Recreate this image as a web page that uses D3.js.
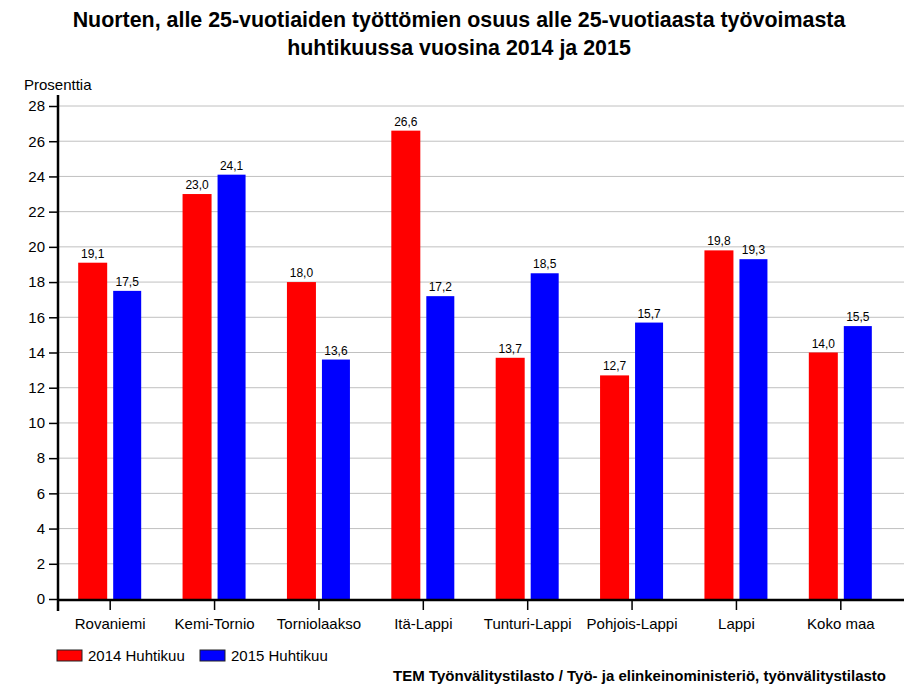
<!DOCTYPE html>
<html><head><meta charset="utf-8">
<script src="https://cdn.jsdelivr.net/npm/d3@7"></script>
<style>body{margin:0;background:#fff}svg{display:block;font-family:Arial,"Liberation Sans",sans-serif}</style>
</head><body><svg id="c" width="919" height="689"></svg>
<script>
const categories = ["Rovaniemi","Kemi-Tornio","Torniolaakso","Itä-Lappi","Tunturi-Lappi","Pohjois-Lappi","Lappi","Koko maa"];
const values2014 = [19.1,23.0,18.0,26.6,13.7,12.7,19.8,14.0];
const values2015 = [17.5,24.1,13.6,17.2,18.5,15.7,19.3,15.5];
const seriesNames = ["2014 Huhtikuu","2015 Huhtikuu"];
const yTicks = [0,2,4,6,8,10,12,14,16,18,20,22,24,26,28];
const colors = ["#ff0000","#0000ff"];

const svg = d3.select("#c");
const x = d3.scaleBand().domain(categories).range([58,893]);
const y = d3.scaleLinear().domain([0,28]).range([599,106]);
const fmt = v => d3.format(".1f")(v).replace(".",",");

svg.append("text").attr("x",459).attr("y",27).attr("text-anchor","middle")
  .attr("font-size",21.4).attr("font-weight","bold").text("Nuorten, alle 25-vuotiaiden työttömien osuus alle 25-vuotiaasta työvoimasta");
svg.append("text").attr("x",459).attr("y",55).attr("text-anchor","middle")
  .attr("font-size",21.4).attr("font-weight","bold").text("huhtikuussa vuosina 2014 ja 2015");
svg.append("text").attr("x",24).attr("y",90).attr("font-size",15).text("Prosenttia");

// grid
svg.append("g").selectAll("line").data(yTicks.filter(d=>d>0)).join("line")
  .attr("x1",58).attr("x2",904).attr("y1",d=>y(d)).attr("y2",d=>y(d))
  .attr("stroke","#c0c0c0").attr("stroke-width",1);

// bars
const series = [values2014, values2015];
const offsets = [[-32,-3],[3,31]];
series.forEach((vals,si)=>{
  const g = svg.append("g");
  g.selectAll("rect").data(categories).join("rect")
    .attr("x",(d)=>x(d)+x.bandwidth()/2+offsets[si][0])
    .attr("width",offsets[si][1]-offsets[si][0])
    .attr("y",(d,i)=>y(vals[i]))
    .attr("height",(d,i)=>y(0)-y(vals[i]))
    .attr("fill",colors[si]);
  g.selectAll("text").data(categories).join("text")
    .attr("x",(d)=>x(d)+x.bandwidth()/2+(offsets[si][0]+offsets[si][1])/2)
    .attr("y",(d,i)=>y(vals[i])-5)
    .attr("text-anchor","middle").attr("font-size",12)
    .text((d,i)=>fmt(vals[i]));
});

// y axis
const ya = svg.append("g").attr("transform","translate(58,0)")
  .call(d3.axisLeft(y).tickValues(yTicks).tickSize(9).tickPadding(4).tickFormat(d3.format("d")));
ya.select(".domain").remove();
ya.selectAll(".tick line").attr("stroke","#000").attr("stroke-width",1.5);
ya.selectAll(".tick text").attr("font-size",15).attr("font-family","Arial,'Liberation Sans',sans-serif").attr("fill","#000");
svg.append("line").attr("x1",58).attr("x2",58).attr("y1",95).attr("y2",611).attr("stroke","#000").attr("stroke-width",2.5);

// x axis
const xa = svg.append("g").attr("transform","translate(0,600)")
  .call(d3.axisBottom(x).tickSize(10).tickPadding(8));
xa.select(".domain").remove();
xa.selectAll(".tick line").attr("stroke","#000").attr("stroke-width",1.5);
xa.selectAll(".tick text").attr("font-size",15).attr("font-family","Arial,'Liberation Sans',sans-serif").attr("fill","#000");
svg.append("line").attr("x1",57).attr("x2",904).attr("y1",600).attr("y2",600).attr("stroke","#000").attr("stroke-width",2.5);

// legend
const leg = svg.append("g");
[57,200].forEach((lx,i)=>{
  leg.append("rect").attr("x",lx).attr("y",650).attr("width",25).attr("height",11)
    .attr("fill",colors[i]).attr("stroke","#222").attr("stroke-width",1);
  leg.append("text").attr("x",lx+31).attr("y",661).attr("font-size",15).text(seriesNames[i]);
});

svg.append("text").attr("x",886).attr("y",681).attr("text-anchor","end")
  .attr("font-size",15).attr("font-weight","bold")
  .text("TEM Työnvälitystilasto / Työ- ja elinkeinoministeriö, työnvälitystilasto");
</script></body></html>
